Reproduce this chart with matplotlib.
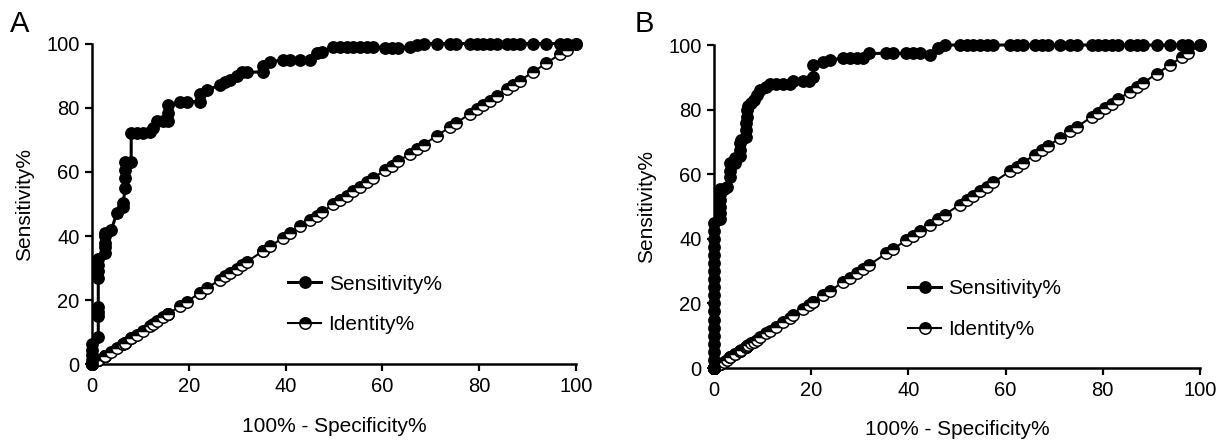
"""
ROC curves for two classifiers (panels A and B), GraphPad-style layout.
Sensitivity% against 100% - Specificity%, with the identity line.
"""

import matplotlib
matplotlib.use("Agg")
import matplotlib.pyplot as plt

plt.rcParams['font.family'] = ['Liberation Sans', 'DejaVu Sans']

# Panel A: ROC points (100% - specificity%, sensitivity%)
FPR_A = [0, 0, 0, 0, 0,
         1.3, 1.3, 1.3, 1.3, 1.3, 1.3, 1.3, 1.3,
         2.7, 2.7, 2.7, 2.7, 2.7,
         4.0, 5.1, 6.5, 6.5, 6.8, 6.8, 6.8, 6.8,
         8.1, 8.1, 9.2, 10.5, 12.0, 12.7, 13.4, 14.7, 15.8, 15.8, 15.8,
         18.2, 19.6, 22.3, 22.3, 23.7, 26.4, 27.5, 28.5, 29.9, 31.0, 32.0,
         35.4, 35.4, 36.8, 39.5, 41.0, 43.0, 45.0, 46.4, 47.5,
         49.9, 51.2, 52.6, 54.0, 55.4, 56.8, 58.1, 60.5, 61.9, 63.3,
         65.7, 67.1, 68.5, 71.2, 74.0, 75.3, 78.1, 79.5, 80.8, 82.2, 83.6,
         85.7, 87.0, 88.4, 91.2, 93.9, 96.7, 98.1, 100]
TPR_A = [0, 1.5, 3.0, 4.5, 6.5,
         8.7, 15.0, 16.5, 18.0, 27.0, 29.0, 31.0, 33.0,
         34.7, 36.5, 38.0, 40.0, 41.0,
         41.9, 47.1, 49.0, 50.3, 55.0, 58.0, 60.5, 63.0,
         63.0, 72.0, 72.0, 72.0, 72.5, 73.6, 76.0, 76.0, 76.0, 78.5, 80.7,
         81.9, 81.9, 81.9, 84.4, 85.5, 87.0, 88.0, 88.6, 90.0, 91.0, 91.0,
         91.2, 93.0, 94.1, 95.0, 95.0, 95.0, 95.0, 97.0, 97.5,
         99.0, 99.0, 99.0, 99.0, 99.0, 99.0, 99.0, 98.7, 98.7, 98.7,
         99.0, 99.5, 100, 100, 100, 100, 100, 100, 100, 100, 100,
         100, 100, 100, 100, 100, 100, 100, 100]

# Panel B
FPR_B = [0, 0, 0, 0, 0, 0, 0, 0, 0, 0,
         0, 0, 0, 0, 0, 0, 0, 0, 0,
         1.2, 1.2, 1.2, 1.2, 1.2, 1.2, 2.0, 2.6, 3.3, 3.3, 3.3,
         4.3, 4.3, 5.3, 5.3, 5.3, 5.6, 6.6, 6.6, 6.6, 6.8, 6.8, 7.0,
         7.6, 8.2, 8.8, 9.5, 10.8, 11.5, 12.8, 14.2, 15.6, 16.3,
         18.4, 19.6, 20.4, 20.4, 22.5, 23.8, 26.6, 28.0, 29.4, 30.7,
         32.0, 35.5, 36.9, 39.6, 41.0, 42.4, 44.4, 46.2, 47.5,
         50.6, 52.0, 53.4, 54.7, 56.1, 57.5, 60.9, 62.3, 63.6,
         66.0, 67.4, 68.8, 71.2, 73.3, 74.6, 77.7, 79.1, 80.5, 81.8, 83.2,
         85.6, 87.0, 88.3, 91.1, 93.8, 96.2, 97.6, 100]
TPR_B = [0, 2.5, 5.0, 7.5, 10.0, 12.5, 15.0, 17.5, 20.0, 22.5,
         25.0, 27.5, 30.0, 32.5, 35.0, 37.5, 40.0, 42.5, 45.0,
         46.0, 48.0, 50.0, 52.0, 54.0, 55.5, 55.5, 56.0, 59.0, 61.0, 63.4,
         63.4, 65.0, 65.5, 67.5, 69.6, 70.6, 71.6, 73.7, 75.8, 77.8, 79.9, 81.0,
         82.0, 83.0, 84.5, 86.0, 87.0, 88.0, 88.0, 88.0, 88.0, 89.0,
         89.0, 89.0, 90.0, 93.8, 94.8, 95.4, 95.9, 95.9, 95.9, 95.9,
         97.4, 97.4, 97.4, 97.4, 97.4, 97.4, 97.0, 99.0, 100,
         100, 100, 100, 100, 100, 100, 100, 100, 100,
         100, 100, 100, 100, 100, 100, 100, 100, 100, 100, 100,
         100, 100, 100, 100, 100, 100, 100, 100]

TICKS = [0, 20, 40, 60, 80, 100]

# pixel-based layout of the reference (1220 x 440)
AXES_A = [0.0754, 0.1716, 0.3967, 0.7295]
AXES_B = [0.5852, 0.1636, 0.3984, 0.7341]


def draw_roc(ax, fpr, tpr, legend_anchor):
    # identity line shares the cutoffs of the ROC curve
    ax.plot(fpr, fpr, color='black', lw=1.5, marker='o', ms=8.2,
            fillstyle='top', markerfacecolor='black', markerfacecoloralt='white',
            markeredgecolor='black', markeredgewidth=1.1, clip_on=False,
            label='Identity%', zorder=3)
    ax.plot(fpr, tpr, color='black', lw=2.2, marker='o', ms=8.2,
            markerfacecolor='black', markeredgecolor='black', clip_on=False,
            label='Sensitivity%', zorder=4)

    ax.set_xlim(0, 100)
    ax.set_ylim(0, 100)
    ax.set_xticks(TICKS)
    ax.set_yticks(TICKS)
    ax.tick_params(direction='out', length=5, width=1.6, labelsize=14.5, pad=4)
    for side in ['top', 'right']:
        ax.spines[side].set_visible(False)
    for side in ['left', 'bottom']:
        ax.spines[side].set_linewidth(1.8)

    ax.set_xlabel('100% - Specificity%', fontsize=15, labelpad=15)
    ax.set_ylabel('Sensitivity%', fontsize=15, labelpad=9)

    handles, labels = ax.get_legend_handles_labels()
    ax.legend(handles[::-1], labels[::-1], loc='upper left',
              bbox_to_anchor=legend_anchor, frameon=False, fontsize=15,
              handlelength=1.6, handletextpad=0.35, labelspacing=1.05,
              borderpad=0, borderaxespad=0)


def main():
    fig = plt.figure(figsize=(12.2, 4.4), dpi=100)
    ax_a = fig.add_axes(AXES_A)
    ax_b = fig.add_axes(AXES_B)

    draw_roc(ax_a, FPR_A, TPR_A, (0.405, 0.28))
    draw_roc(ax_b, FPR_B, TPR_B, (0.399, 0.275))

    fig.text(0.008, 0.945, 'A', fontsize=21, va='center', ha='left')
    fig.text(0.520, 0.945, 'B', fontsize=21, va='center', ha='left')

    fig.savefig('out.png', dpi=100)


if __name__ == "__main__":
    main()
